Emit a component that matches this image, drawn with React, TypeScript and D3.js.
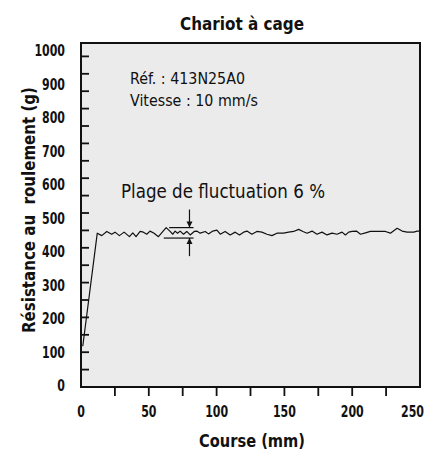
import React from "react";
import * as d3 from "d3";

// ---- Data ----
const courseMm = [1.3, 12, 15.3, 19, 22.6, 25.1, 28.3, 31.8, 35.7, 38.2, 40.6, 43.6, 46.0, 48.5, 50.9, 53.9, 57.1, 62.8, 65.7, 67.7, 69.4, 71.2, 73.1, 75.6, 78.0, 80.5, 83.5, 85.4, 87.9, 91.6, 94.0, 97.2, 100.2, 102.7, 106.3, 110.0, 113.7, 116.9, 119.9, 122.4, 126.0, 129.7, 133.4, 137.1, 140.8, 144.5, 149.4, 153.1, 156.8, 160.5, 163.7, 166.7, 170.4, 174.0, 177.7, 181.4, 185.1, 188.8, 192.5, 195.0, 197.4, 199.9, 203.1, 206.1, 209.8, 213.4, 220.8, 224.5, 228.2, 233.1, 236.8, 240.5, 245.4, 247.9, 250];
const resistanceG = [117, 442, 435, 447, 439, 445, 435, 445, 432, 443, 432, 447, 445, 439, 448, 442, 432, 458, 447, 439, 448, 442, 448, 439, 447, 437, 447, 448, 442, 447, 440, 448, 451, 439, 447, 437, 445, 437, 445, 448, 439, 447, 445, 439, 435, 442, 442, 445, 447, 453, 447, 442, 448, 439, 445, 437, 442, 439, 445, 437, 445, 447, 448, 439, 443, 447, 447, 447, 442, 456, 448, 445, 445, 448, 448];

const yTickLabels = [0, 100, 200, 300, 400, 500, 600, 700, 800, 900, 1000];
const xTickLabels = [0, 50, 100, 150, 200, 250];
const yMinorTicks = d3.range(50, 1000, 50);
const xMinorTicks = d3.range(25, 250, 25);

// fluctuation marker (data units)
const markX = 80;
const bandUpper = 458;
const bandLower = 428;
const bandUpperFrom = 65;
const bandLowerFrom = 61;
const bandTo = 83;
const markTop = 510;
const markBottom = 376;

const title = "Chariot à cage";
const xTitle = "Course (mm)";
const yTitle = "Résistance au  roulement (g)";
const note1 = "Réf. : 413N25A0";
const note2 = "Vitesse : 10 mm/s";
const bandNote = "Plage de fluctuation 6 %";

const W = 429;
const H = 450;
const FONT = "'Liberation Sans Narrow', 'Arial Narrow', 'DejaVu Sans Condensed', sans-serif";
const TICK_SCALE_X = 0.75;

export default function App() {
  const left = 81, right = 420, top = 43, bottom = 387;
  const x = d3.scaleLinear().domain([0, 250]).range([left, right]);
  const y = d3.scaleLinear().domain([0, 1000]).range([bottom, 39]);
  // tick labels in the reference are spaced slightly differently from tick marks
  const yLab = d3.scaleLinear().domain([0, 1000]).range([391, 56]);

  const line = d3
    .line<number>()
    .x((_, i) => x(courseMm[i]))
    .y((d) => y(d));
  const path = line(resistanceG) || "";

  const mx = x(markX);
  const yU = y(bandUpper);
  const yL = y(bandLower);

  return (
    <div style={{ position: "absolute", left: 0, top: 0 }}>
      <svg width={W} height={H} style={{ display: "block", background: "#fff" }}>
        <text x={242} y={30} textAnchor="middle" fontFamily={FONT} fontWeight="bold" fontSize={18.5} textLength={124} lengthAdjust="spacingAndGlyphs" fill="#111">
          {title}
        </text>

        <rect x={left} y={top} width={right - left} height={bottom - top} fill="#ebebeb" stroke="#111" strokeWidth={2} />

        {yMinorTicks.map((t) => (
          <line key={"yt" + t} x1={left} x2={left + 8} y1={y(t)} y2={y(t)} stroke="#111" strokeWidth={1.8} />
        ))}
        {xMinorTicks.map((t) => (
          <line key={"xt" + t} x1={x(t)} x2={x(t)} y1={bottom} y2={bottom + 9} stroke="#111" strokeWidth={1.8} />
        ))}

        {yTickLabels.map((t) => (
          <text key={"yl" + t} transform={`translate(65,${yLab(t)}) scale(${TICK_SCALE_X},1)`} textAnchor="end" fontFamily={FONT} fontWeight="bold" fontSize={16.3} fill="#111">
            {t}
          </text>
        ))}
        {xTickLabels.map((t, i) => {
          const last = i === xTickLabels.length - 1;
          return (
            <text key={"xl" + t} transform={`translate(${last ? W - 5 : x(t)},417) scale(${TICK_SCALE_X},1)`} textAnchor={last ? "end" : "middle"} fontFamily={FONT} fontWeight="bold" fontSize={16.3} fill="#111">
              {t}
            </text>
          );
        })}

        <text x={252} y={447} textAnchor="middle" fontFamily={FONT} fontWeight="bold" fontSize={18.5} textLength={106} lengthAdjust="spacingAndGlyphs" fill="#111">
          {xTitle}
        </text>
        <text transform="translate(35,210) rotate(-90)" textAnchor="middle" fontFamily={FONT} fontWeight="bold" fontSize={18.5} textLength={246} lengthAdjust="spacingAndGlyphs" fill="#111" style={{ whiteSpace: "pre" }}>
          {yTitle}
        </text>

        <text x={130} y={84} fontFamily={FONT} fontSize={16.3} textLength={115} lengthAdjust="spacingAndGlyphs" fill="#111">
          {note1}
        </text>
        <text x={130} y={106} fontFamily={FONT} fontSize={16.3} textLength={128} lengthAdjust="spacingAndGlyphs" fill="#111">
          {note2}
        </text>
        <text x={121} y={198.3} fontFamily={FONT} fontSize={20} textLength={204} lengthAdjust="spacingAndGlyphs" fill="#111">
          {bandNote}
        </text>

        <path d={path} fill="none" stroke="#111" strokeWidth={1.2} strokeLinejoin="round" />

        {/* fluctuation marker */}
        <line x1={x(bandUpperFrom)} x2={x(bandTo)} y1={yU} y2={yU} stroke="#111" strokeWidth={1.2} />
        <line x1={x(bandLowerFrom)} x2={x(bandTo)} y1={yL} y2={yL} stroke="#111" strokeWidth={1.2} />
        <line x1={mx} x2={mx} y1={y(markTop)} y2={yU} stroke="#111" strokeWidth={1.2} />
        <line x1={mx} x2={mx} y1={yL} y2={y(markBottom)} stroke="#111" strokeWidth={1.2} />
        <path d={`M${mx - 3},${yU - 6} L${mx + 3},${yU - 6} L${mx},${yU} Z`} fill="#111" />
        <path d={`M${mx - 3},${yL + 6} L${mx + 3},${yL + 6} L${mx},${yL} Z`} fill="#111" />
      </svg>
    </div>
  );
}
